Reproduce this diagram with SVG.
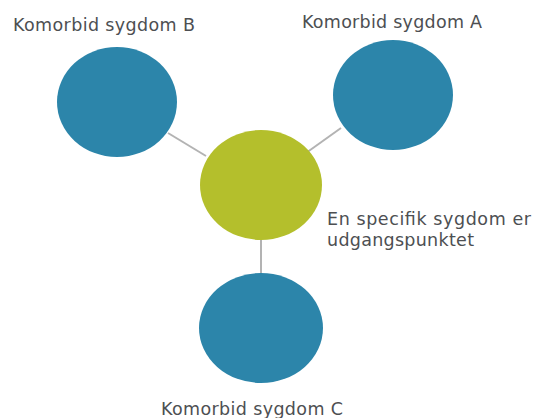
<svg xmlns="http://www.w3.org/2000/svg" width="533" height="418" viewBox="0 0 533 418">
<style>
.t{font-family:"DejaVu Sans",Verdana,sans-serif;font-size:17.5px;fill:#4d4f52}
.b{fill:#2c85aa}
.g{fill:#b4bf2c}
.c{stroke:#b3b3b3;stroke-width:2;fill:none}
</style>
<rect width="533" height="418" fill="#ffffff"/>
<g id="connectors">
<line class="c" x1="168" y1="133" x2="206" y2="156"/>
<line class="c" x1="341" y1="128" x2="306" y2="153"/>
<line class="c" x1="261" y1="240" x2="261" y2="274"/>
</g>
<g id="nodeB">
<ellipse class="b" cx="117" cy="102" rx="60" ry="55"/>
<text class="t" x="13" y="31" textLength="182">Komorbid sygdom B</text>
</g>
<g id="nodeA">
<ellipse class="b" cx="393" cy="95" rx="60" ry="55"/>
<text class="t" x="302" y="28" textLength="180">Komorbid sygdom A</text>
</g>
<g id="center">
<ellipse class="g" cx="261" cy="185" rx="61" ry="55"/>
<text class="t" x="327" y="225" textLength="204">En specifik sygdom er</text>
<text class="t" x="327" y="246" textLength="147">udgangspunktet</text>
</g>
<g id="nodeC">
<ellipse class="b" cx="261" cy="328" rx="62" ry="55"/>
<text class="t" x="161" y="415" textLength="182">Komorbid sygdom C</text>
</g>
</svg>
